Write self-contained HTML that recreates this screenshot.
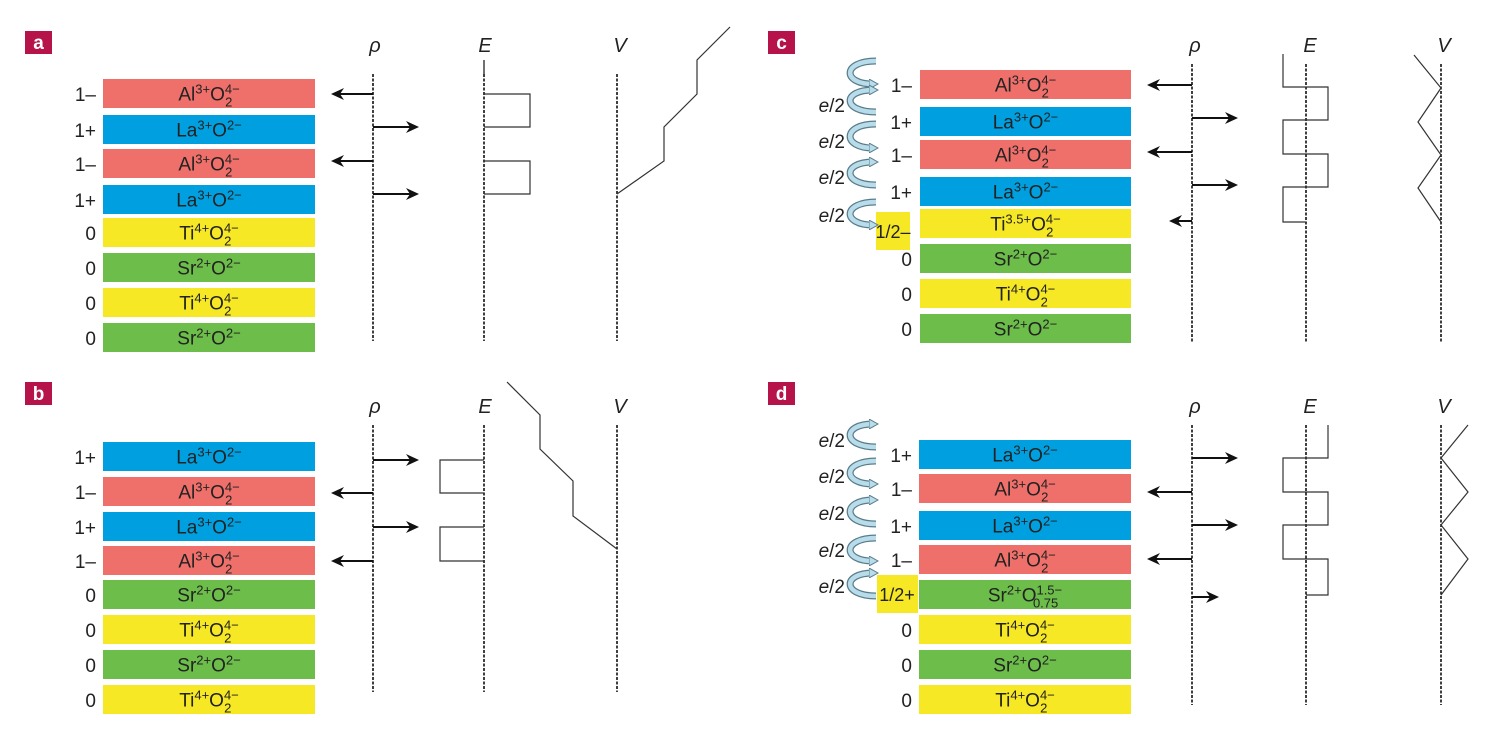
<!DOCTYPE html>
<html><head><meta charset="utf-8"><style>
html,body{margin:0;padding:0;background:#fff;}
svg{display:block;}
text{font-family:"Liberation Sans",sans-serif;}
</style></head><body>
<svg id="s" width="1487" height="737" viewBox="0 0 1487 737" xmlns="http://www.w3.org/2000/svg">
<defs>
<marker id="ah" markerWidth="13" markerHeight="12" refX="12" refY="6" orient="auto" markerUnits="userSpaceOnUse">
<path d="M0,0 L13,6 L0,12 L4,6 z" fill="#111"/></marker>
<marker id="ch" markerWidth="10" markerHeight="10" refX="4" refY="5" orient="auto" markerUnits="userSpaceOnUse">
<path d="M0,0 L9,5 L0,10 z" fill="#b9dcea" stroke="#5a7d8c" stroke-width="1"/></marker>
</defs>
<g id="g"></g>
</svg>
<script>
const g=document.getElementById('g');let h='';
const C={A:'#ef6f6a',L:'#00a0e0',T:'#f7e826',S:'#6cbd4a',X:'#f7e826',Y:'#6cbd4a'};
function st(a,b){return `<tspan font-size="13" dy="-7">${a}</tspan><tspan font-size="13" dx="-${a.length*7.3}" dy="13">${b}</tspan><tspan dy="-6"> </tspan>`;}
function f(t,cx,cy){
 const y=cy+7,o=`x="${cx}" y="${y}" font-size="19" text-anchor="middle" fill="#222"`;
 const sp=s=>`<tspan font-size="13" dy="-7">${s}</tspan>`;
 if(t=='A')return `<text ${o}>Al${sp('3+')}<tspan dy="7">O</tspan>${st('4−','2')}</text>`;
 if(t=='L')return `<text ${o}>La${sp('3+')}<tspan dy="7">O</tspan>${sp('2−')}</text>`;
 if(t=='S')return `<text ${o}>Sr${sp('2+')}<tspan dy="7">O</tspan>${sp('2−')}</text>`;
 if(t=='T')return `<text ${o}>Ti${sp('4+')}<tspan dy="7">O</tspan>${st('4−','2')}</text>`;
 if(t=='X')return `<text ${o}>Ti${sp('3.5+')}<tspan dy="7">O</tspan>${st('4−','2')}</text>`;
 if(t=='Y')return `<text ${o}>Sr${sp('2+')}<tspan dy="7">O</tspan>${st('1.5−','0.75')}</text>`;
}
function panel(lbl,lx,ly,x0,x1,rows,lblx){
 h+=`<rect x="${lx}" y="${ly}" width="27" height="23" fill="#b5134a"/><text x="${lx+13.5}" y="${ly+18}" font-size="19" font-weight="bold" fill="#fff" text-anchor="middle">${lbl}</text>`;
 rows.forEach(r=>{const[t,y,ch]=r;h+=`<rect x="${x0}" y="${y}" width="${x1-x0}" height="29" fill="${C[t]}"/>`+f(t,(x0+x1)/2,y+14.5);
  if(ch)h+=`<text x="${lblx}" y="${y+22}" font-size="19" text-anchor="end" fill="#222">${ch}</text>`;});
}
function ax(lbls,y){lbls.forEach(([s,x])=>h+=`<text x="${x}" y="${y}" font-size="20" font-style="italic" text-anchor="middle" fill="#222">${s}</text>`);}
function dl(x,y1,y2){h+=`<line x1="${x}" y1="${y1}" x2="${x}" y2="${y2}" stroke="#111" stroke-width="1.6" stroke-dasharray="3,1.5"/>`;}
function ar(x1,x2,y){h+=`<line x1="${x1}" y1="${y}" x2="${x2-(x2>x1?4:-4)}" y2="${y}" stroke="#111" stroke-width="2"/><line x1="${x2-(x2>x1?6:-6)}" y1="${y}" x2="${x2}" y2="${y}" stroke="#111" stroke-width="1" marker-end="url(#ah)"/>`;}
function pl(p,c){h+=`<polyline points="${p}" fill="none" stroke="${c||'#333'}" stroke-width="1.2"/>`;}
function ca(y1,y2,headTop){const x=873,xl=842;
 let d=headTop?`M${x+3},${y2} C${xl},${y2} ${xl},${y1} ${x},${y1}`:`M${x+3},${y1} C${xl},${y1} ${xl},${y2} ${x},${y2}`;
 h+=`<path d="${d}" fill="none" stroke="#5a7d8c" stroke-width="7"/><path d="${d}" fill="none" stroke="#b9dcea" stroke-width="4.5" marker-end="url(#ch)"/>`;}
function e2(y){h+=`<text x="845" y="${y}" font-size="19" text-anchor="end" fill="#222"><tspan font-style="italic">e</tspan>/2</text>`;}

// Panel a
panel('a',25,31,103,315,[['A',79,'1–'],['L',115,'1+'],['A',149,'1–'],['L',185,'1+'],['T',218,'0'],['S',253,'0'],['T',288,'0'],['S',323,'0']],96);
ax([['ρ',375],['E',485],['V',620]],52);
dl(373,74,341);dl(484,74,341);pl('484,60 484,74','#111');dl(617,74,341);
ar(373,332,94);ar(373,418,127);ar(373,332,161);ar(373,418,194);
pl('484,94 530,94 530,127 484,127');pl('484,161 530,161 530,194 484,194');
pl('617,194 664,161 664,127 697,94 697,60 730,27');

// Panel b
panel('b',25,382,103,315,[['L',442,'1+'],['A',477,'1–'],['L',512,'1+'],['A',546,'1–'],['S',580,'0'],['T',615,'0'],['S',650,'0'],['T',685,'0']],96);
ax([['ρ',375],['E',485],['V',620]],413);
dl(373,425,692);dl(484,425,692);dl(617,425,692);
ar(373,418,460);ar(373,332,493);ar(373,418,527);ar(373,332,561);
pl('484,460 440,460 440,493 484,493');pl('484,527 440,527 440,561 484,561');
pl('507,382 540,415 540,449 573,481 573,516 617,549');

// Panel c
h+=`<rect x="876" y="212" width="34" height="38" fill="#f7e826"/><text x="893" y="238" font-size="18" text-anchor="middle" fill="#222">1/2–</text>`;
panel('c',768,31,920,1131,[['A',70,'1–'],['L',107,'1+'],['A',140,'1–'],['L',177,'1+'],['X',209,''],['S',244,'0'],['T',279,'0'],['S',314,'0']],912);
ax([['ρ',1195],['E',1310],['V',1444]],52);
dl(1192,64,342);dl(1306,64,342);dl(1441,64,342);
ar(1192,1148,85);ar(1192,1237,118);ar(1192,1148,152);ar(1192,1237,185);ar(1192,1170,221);
pl('1283,54 1283,87 1328,87 1328,120 1283,120 1283,154 1328,154 1328,187 1283,187 1283,222 1306,222');
pl('1414,55 1441,88 1418,122 1441,155 1418,188 1441,222');
ca(61,84,false);ca(90,112,true);ca(124,148,false);ca(162,185,true);ca(202,225,false);
e2(112);e2(148);e2(184);e2(222);

// Panel d
h+=`<rect x="877" y="575" width="41" height="38" fill="#f7e826"/><text x="897" y="601" font-size="18" text-anchor="middle" fill="#222">1/2+</text>`;
panel('d',768,382,919,1131,[['L',440,'1+'],['A',474,'1–'],['L',511,'1+'],['A',545,'1–'],['Y',580,''],['T',615,'0'],['S',650,'0'],['T',685,'0']],912);
ax([['ρ',1195],['E',1310],['V',1444]],413);
dl(1192,425,705);dl(1306,425,705);dl(1441,425,705);
ar(1192,1237,458);ar(1192,1148,492);ar(1192,1237,525);ar(1192,1148,559);ar(1192,1218,597);
pl('1328,425 1328,458 1283,458 1283,492 1328,492 1328,525 1283,525 1283,559 1328,559 1328,595 1306,595');
pl('1468,425 1441,458 1468,492 1441,525 1468,559 1441,595');
ca(424,447,true);ca(461,484,false);ca(500,524,true);ca(538,561,false);ca(573,596,true);
e2(447);e2(483);e2(520);e2(557);e2(593);
g.innerHTML=h;
</script>
</body></html>
